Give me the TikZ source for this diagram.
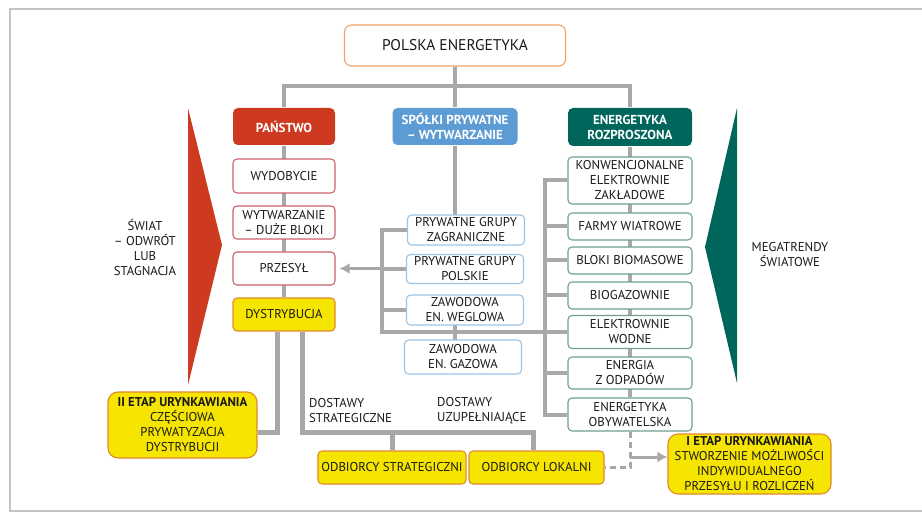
\documentclass[tikz,border=0pt]{standalone}
\usepackage{fontspec}
\setmainfont{PT Sans}
\usetikzlibrary{arrows.meta,positioning,backgrounds}

\definecolor{panred}{HTML}{CD3A1F}
\definecolor{spblue}{HTML}{5C9BD3}
\definecolor{roteal}{HTML}{00665B}
\definecolor{ylw}{HTML}{F6E500}
\definecolor{ylwedge}{HTML}{E08A2E}
\definecolor{lnk}{HTML}{A8A8A8}
\definecolor{redge}{HTML}{C9636A}
\definecolor{bedge}{HTML}{9EC4E4}
\definecolor{tedge}{HTML}{6E9E96}
\definecolor{oedge}{HTML}{F2A266}
\definecolor{frm}{HTML}{C4C4C4}

\tikzset{
  txt/.style={font=\fontsize{12.8}{15}\selectfont, align=center, text=black!90, inner sep=0pt},
  box/.style={txt, draw, fill=white, rounded corners=4pt, line width=1.1pt},
  head/.style={box, draw=none, text=white, font=\fontsize{13}{15}\selectfont\bfseries, minimum height=37pt, rounded corners=5pt},
  lbox/.style={box, draw=redge, minimum width=102pt, minimum height=33pt},
  mbox/.style={box, draw=bedge, minimum width=117pt, minimum height=30pt},
  rbox/.style={box, draw=tedge, minimum width=124pt, minimum height=27pt},
  ybox/.style={box, draw=ylwedge, fill=ylw, minimum height=33pt},
  conn/.style={draw=lnk, line width=4pt},
  arr/.style={draw=lnk, line width=3pt, -{Latex[length=10pt,width=11pt]}},
  dashline/.style={draw=lnk, line width=3pt, dash pattern=on 6pt off 4pt},
}

\begin{document}
\begin{tikzpicture}[x=1pt,y=-1pt]
\useasboundingbox (0,0) rectangle (922,513);
\draw[frm, line width=1.5pt] (922,9) -- (10,9) -- (10,511) -- (922,511);

\fill[panred] (188,108) -- (222,245) -- (188,385) -- cycle;
\fill[roteal] (737,108) -- (705,247) -- (737,383) -- cycle;

\node[box, draw=oedge, minimum width=221pt, minimum height=41pt, rounded corners=7pt, font=\fontsize{15.5}{17}\selectfont] (polska) at (455,45.5) {POLSKA ENERGETYKA};

\node[head, fill=panred, minimum width=102pt] (panstwo) at (284,126.5) {PAŃSTWO};
\node[head, fill=spblue, minimum width=125pt] (spolki) at (455,126.5) {SPÓŁKI PRYWATNE\\– WYTWARZANIE};
\node[head, fill=roteal, minimum width=124pt, minimum height=38pt] (rozpr) at (630,127) {ENERGETYKA\\ROZPROSZONA};

\node[lbox, minimum height=34pt] (wydob) at (284,176) {WYDOBYCIE};
\node[lbox] (wytw) at (284,222.5) {WYTWARZANIE\\– DUŻE BLOKI};
\node[lbox] (przesyl) at (284,268.5) {PRZESYŁ};
\node[lbox, draw=ylwedge, fill=ylw] (dystr) at (284,314.5) {DYSTRYBUCJA};

\node[mbox] (zagr) at (466,230) {PRYWATNE GRUPY\\ZAGRANICZNE};
\node[mbox, minimum height=29pt] (polskie) at (465,269) {PRYWATNE GRUPY\\POLSKIE};
\node[mbox] (wegl) at (465,310) {ZAWODOWA\\EN. WEGLOWA};
\node[mbox, minimum height=34pt] (gaz) at (463,357) {ZAWODOWA\\EN. GAZOWA};

\node[rbox, minimum height=47pt] (konw) at (630,180.5) {KONWENCJONALNE\\ELEKTROWNIE\\ZAKŁADOWE};
\node[rbox] (farmy) at (630,226.5) {FARMY WIATROWE};
\node[rbox] (bloki) at (630,260.5) {BLOKI BIOMASOWE};
\node[rbox] (biogaz) at (630,295.5) {BIOGAZOWNIE};
\node[rbox, minimum height=33pt] (wodne) at (630,332) {ELEKTROWNIE\\WODNE};
\node[rbox, minimum height=32pt] (odpady) at (630,373) {ENERGIA\\Z ODPADÓW};
\node[rbox, minimum height=33pt] (obyw) at (630,414.5) {ENERGETYKA\\OBYWATELSKA};

\node[ybox, minimum width=149pt, minimum height=66pt, rounded corners=10pt] (etap2) at (182.5,425) {\textbf{II ETAP URYNKAWIANIA}\\CZĘŚCIOWA\\PRYWATYZACJA\\DYSTRYBUCJI};
\node[ybox, minimum width=148pt] (strat) at (392,467.5) {ODBIORCY STRATEGICZNI};
\node[ybox, minimum width=135pt] (lokal) at (536.5,467.5) {ODBIORCY LOKALNI};
\node[ybox, minimum width=163pt, minimum height=60pt, rounded corners=10pt] (etap1) at (749.5,464) {\textbf{I ETAP URYNKAWIANIA}\\STWORZENIE MOŻLIWOŚCI\\INDYWIDUALNEGO\\PRZESYŁU I ROZLICZEŃ};

\node[txt] (swiat) at (145,248) {ŚWIAT\\– ODWRÓT\\LUB\\STAGNACJA};
\node[txt] (mega) at (790,254.5) {MEGATRENDY\\ŚWIATOWE};
\node[txt, align=left, anchor=west] (dstrat) at (309,410.5) {DOSTAWY\\STRATEGICZNE};
\node[txt, align=left, anchor=west] (duzup) at (437,410.5) {DOSTAWY\\UZUPEŁNIAJĄCE};

\begin{scope}[on background layer]
\coordinate (bar) at (455,86);
\coordinate (lbr) at (382,332);
\coordinate (rbr) at (545,0);
\coordinate (split) at (302,432);
\coordinate (fork) at (630,457);
\draw[conn] (panstwo.north) |- (bar) -| (rozpr.north);
\draw[conn] (polska) -- (spolki);
\draw[conn] (panstwo) -- (dystr);
\draw[conn] (rozpr) -- (obyw);
\draw[conn] (spolki) -- (spolki |- zagr);
\draw[conn] (spolki |- wegl) -- (spolki |- gaz);
\draw[conn] (zagr) -| (lbr) -- (wodne);
\foreach \n in {polskie,wegl}
  \draw[conn] (\n) -- (\n -| lbr);
\draw[arr, shorten >=4pt] (przesyl.east -| lbr) -- (przesyl.east);
\draw[conn] (konw) -| (rbr |- obyw) -- (obyw);
\foreach \n in {farmy,bloki,biogaz,wodne,odpady}
  \draw[conn] (\n) -- (\n -| rbr);
\draw[conn, line width=5pt] ([xshift=-7pt]dystr.south) |- (etap2.east |- split);
\draw[conn, line width=5pt] ([xshift=18pt]dystr.south) |- ([xshift=-3pt]lokal.north |- split) -- ([xshift=-3pt]lokal.north);
\draw[conn, line width=5pt] (strat.north |- split) -- (strat.north);
\draw[dashline] (obyw.south) |- (lokal.east);
\draw[arr] (fork) -- (fork -| etap1.west);
\end{scope}
\end{tikzpicture}
\end{document}
